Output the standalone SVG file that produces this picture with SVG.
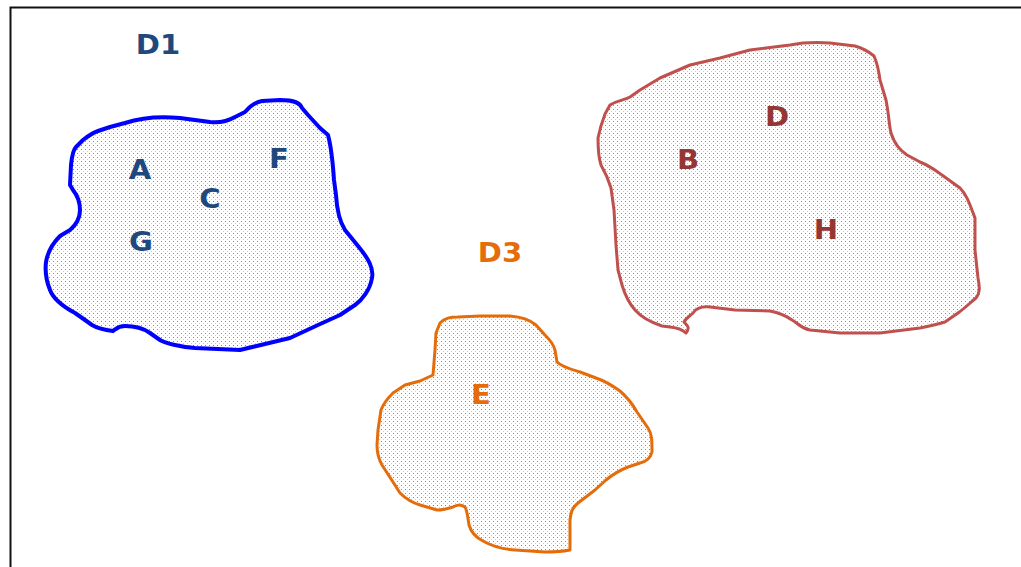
<svg xmlns="http://www.w3.org/2000/svg" width="1021" height="567" viewBox="0 0 1021 567">
<defs>
<pattern id="dots" width="4" height="4" patternUnits="userSpaceOnUse">
<rect x="1" y="1" width="1" height="1" fill="#888"/>
<rect x="3" y="3" width="1" height="1" fill="#ccc"/>
</pattern>
<style>
.lbl{font-family:"DejaVu Sans",Verdana,sans-serif;font-weight:bold;font-size:26px;text-anchor:middle;dominant-baseline:central}
.blue{fill:#1F497D}.red{fill:#943634}.orange{fill:#E46C0A}
.region{fill:url(#dots);stroke-linejoin:round}
</style>
</defs>
<rect x="0" y="0" width="1021" height="567" fill="#fff"/>
<rect x="10.5" y="7.5" width="1030" height="600" fill="none" stroke="#111" stroke-width="2"/>
<g id="D1">
<path class="region" stroke="#0000FF" stroke-width="4" d="M125,123 C140,118 160,116 180,118 L210,122 C220,123 228,121 235,117 L245,112 C250,106 255,102 262,101 L280,100 C295,100 300,103 302,108 L308,115 L320,128 L328,135 C332,150 333,165 334,180 L336,195 C337,212 340,222 345,230 L358,246 C368,258 374,268 372,278 C370,290 362,300 355,305 L340,315 L318,325 L290,338 L265,344 L240,350 L195,348 C180,347 165,343 160,340 L150,333 C143,328 135,326 125,326 C118,326 116,329 113,331 C105,330 97,328 92,325 L85,320 L75,313 C62,306 53,298 50,290 C46,280 45,270 46,262 C48,250 53,243 60,236 L70,230 C77,224 80,218 80,210 C80,200 77,195 73,190 L70,185 L71,165 C72,155 73,150 76,147 L83,140 C88,136 92,133 98,131 L110,127 Z"/>
<text class="lbl blue" transform="translate(158,45) scale(1.12,1)">D1</text>
<text class="lbl blue" transform="translate(140,170) scale(1.12,1)">A</text>
<text class="lbl blue" transform="translate(210,199) scale(1.12,1)">C</text>
<text class="lbl blue" transform="translate(279,159) scale(1.12,1)">F</text>
<text class="lbl blue" transform="translate(141,242) scale(1.12,1)">G</text>
</g>
<g id="D3">
<path class="region" stroke="#E46C0A" stroke-width="3" d="M440,323 C445,318 450,317 458,317 L480,316 L510,316 C522,317 530,320 536,325 L545,335 C550,340 554,346 555,350 L557,362 C562,367 570,369 580,372 L596,378 C605,381 613,386 620,391 C628,398 633,405 637,412 L648,428 C652,434 652,440 652,452 C650,460 645,462 640,463 L628,467 C618,471 612,475 606,480 L595,490 L578,503 C572,508 571,512 570,520 L570,550 C560,552 550,552 545,552 L515,550 C500,549 490,545 483,541 C475,537 471,532 469,525 C468,518 467,510 465,507 C460,504 457,505 453,507 C447,509 443,510 437,510 L420,505 C410,502 405,498 400,493 L393,482 L382,465 C378,458 377,452 377,445 L378,430 L381,410 C384,402 388,398 393,393 L405,385 L420,381 L433,375 L435,350 L436,333 Z"/>
<text class="lbl orange" transform="translate(500,253) scale(1.12,1)">D3</text>
<text class="lbl orange" transform="translate(481,395) scale(1.12,1)">E</text>
</g>
<g id="D2">
<path class="region" stroke="#C0504D" stroke-width="3" d="M610,105 C618,100 625,100 630,97 L640,90 L660,78 L690,65 L720,58 L750,50 L790,45 C800,43 815,42 830,43 L855,46 C862,48 868,51 874,56 C878,65 879,72 880,80 L886,100 C889,115 889,125 891,133 C895,145 900,150 907,155 L920,162 C930,166 935,170 942,175 L960,188 C967,195 970,205 975,218 L975,250 L978,278 C980,288 980,293 976,298 C970,303 965,308 958,313 L945,322 C935,325 925,327 920,328 L880,333 L840,333 L810,330 C800,328 798,323 792,320 C785,315 780,313 770,311 L735,310 L710,307 C700,306 695,310 693,313 C690,316 686,318 684,322 C688,326 690,328 686,333 C683,330 678,328 670,327 L662,326 C650,322 642,318 635,310 C628,302 625,295 622,285 L618,270 L616,245 L614,210 L611,188 C608,178 605,172 601,165 C598,156 598,148 598,138 C600,128 602,122 605,114 Z"/>
<text class="lbl red" transform="translate(777,117) scale(1.12,1)">D</text>
<text class="lbl red" transform="translate(688,160) scale(1.12,1)">B</text>
<text class="lbl red" transform="translate(826,230) scale(1.12,1)">H</text>
</g>
</svg>
